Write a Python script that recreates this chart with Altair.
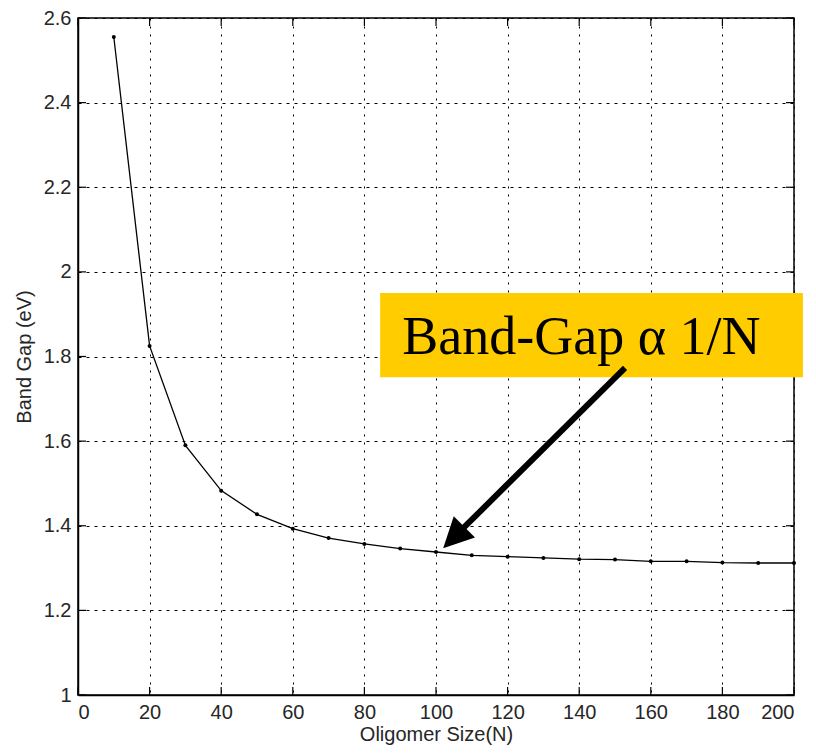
import altair as alt
import pandas as pd

# ---- data ----
n_values = [10, 20, 30, 40, 50, 60, 70, 80, 90, 100,
            110, 120, 130, 140, 150, 160, 170, 180, 190, 200]
band_gap = [2.555, 1.825, 1.590, 1.483, 1.427, 1.393, 1.371, 1.357, 1.346, 1.338,
            1.330, 1.327, 1.324, 1.321, 1.320, 1.316, 1.316, 1.313, 1.312, 1.312]
x_ticks = [0, 20, 40, 60, 80, 100, 120, 140, 160, 180, 200]
y_ticks = [1.0, 1.2, 1.4, 1.6, 1.8, 2.0, 2.2, 2.4, 2.6]

x_title = "Oligomer Size(N)"
y_title = "Band Gap (eV)"
note_text = "Band-Gap α 1/N"

# annotation anchors (data coordinates)
box_x = [84.4, 202.5]
box_y = [1.751, 1.950]
note_xy = [140.6, 1.806]
arrow_from = [152.8, 1.773]
arrow_shaft_to = [105.9, 1.380]
arrow_tip = [102.0, 1.347]

W, H = 716, 677
FONT = "Liberation Sans"
TXT = "#262626"
FS = 20

df = pd.DataFrame({"n": n_values, "gap": band_gap})
xs = alt.Scale(domain=[0, 200], nice=False, zero=False)
ys = alt.Scale(domain=[1.0, 2.6], nice=False, zero=False)

x_axis = alt.Axis(values=x_ticks, title=x_title, format="d", grid=True,
                  gridDash=[2, 6], gridColor="black", gridOpacity=1, gridWidth=1,
                  ticks=False, tickSize=0, domain=True, domainColor="black",
                  domainWidth=1.5, labelPadding=7, labelOverlap=False,
                  titlePadding=2, labelFontSize=FS, titleFontSize=FS,
                  labelFont=FONT, titleFont=FONT, labelColor=TXT, titleColor=TXT,
                  titleFontWeight="normal")
y_axis = alt.Axis(values=y_ticks, title=y_title, format="~g", grid=True,
                  gridDash=[3, 5], gridColor="black", gridOpacity=1, gridWidth=1,
                  ticks=False, tickSize=0, domain=True, domainColor="black",
                  domainWidth=1.5, labelPadding=7, labelOverlap=False,
                  titlePadding=9, labelFontSize=FS, titleFontSize=FS,
                  labelFont=FONT, titleFont=FONT, labelColor=TXT, titleColor=TXT,
                  titleFontWeight="normal")


def X(field):
    return alt.X(field, scale=xs, axis=x_axis)


def Y(field):
    return alt.Y(field, scale=ys, axis=y_axis)


line = alt.Chart(df).mark_line(color="black", strokeWidth=1.3).encode(
    x=X("n:Q"), y=Y("gap:Q"))
pts = alt.Chart(df).mark_point(filled=True, color="black", size=16, opacity=1).encode(
    x=X("n:Q"), y=Y("gap:Q"))

xt = pd.DataFrame({"t": x_ticks})
yt = pd.DataFrame({"t": y_ticks})
TL = 8
tick_bottom = alt.Chart(xt).mark_rule(color="black", strokeWidth=1.2).encode(
    x=X("t:Q"), y=alt.value(H), y2=alt.value(H - TL))
tick_top = alt.Chart(xt).mark_rule(color="black", strokeWidth=1.2).encode(
    x=X("t:Q"), y=alt.value(0), y2=alt.value(TL))
tick_left = alt.Chart(yt).mark_rule(color="black", strokeWidth=1.2).encode(
    y=Y("t:Q"), x=alt.value(0), x2=alt.value(TL))
tick_right = alt.Chart(yt).mark_rule(color="black", strokeWidth=1.2).encode(
    y=Y("t:Q"), x=alt.value(W), x2=alt.value(W - TL))

box_df = pd.DataFrame({"x1": [box_x[0]], "x2": [box_x[1]], "y1": [box_y[0]], "y2": [box_y[1]]})
box = alt.Chart(box_df).mark_rect(color="#FFCC00", clip=False).encode(
    x=X("x1:Q"), x2="x2:Q", y=Y("y1:Q"), y2="y2:Q")
note_df = pd.DataFrame({"x": [note_xy[0]], "y": [note_xy[1]], "t": [note_text]})
note = alt.Chart(note_df).mark_text(font="Liberation Serif", fontSize=54, color="black",
                                    align="center", baseline="alphabetic").encode(
    x=X("x:Q"), y=Y("y:Q"), text="t:N")

shaft_df = pd.DataFrame({"x1": [arrow_from[0]], "x2": [arrow_shaft_to[0]],
                         "y1": [arrow_from[1]], "y2": [arrow_shaft_to[1]]})
shaft = alt.Chart(shaft_df).mark_rule(color="black", strokeWidth=6).encode(
    x=X("x1:Q"), x2="x2:Q", y=Y("y1:Q"), y2="y2:Q")
head_df = pd.DataFrame({"x": [arrow_tip[0]], "y": [arrow_tip[1]]})
head = alt.Chart(head_df).mark_point(
    shape="M0,0L-0.5,1L0.5,1Z", filled=True, color="black", opacity=1,
    size=3600, angle=225, strokeWidth=0).encode(x=X("x:Q"), y=Y("y:Q"))

chart = alt.layer(line, pts, tick_bottom, tick_top, tick_left, tick_right,
                  box, note, shaft, head).properties(
    width=W, height=H,
    background="white",
    autosize=alt.AutoSizeParams(type="none"),
    padding={"left": 70, "top": 10, "right": 12, "bottom": 52},
).configure_view(stroke="black", strokeWidth=1.5)

chart.save("out.html", embed_options={"renderer": "svg", "actions": False})
